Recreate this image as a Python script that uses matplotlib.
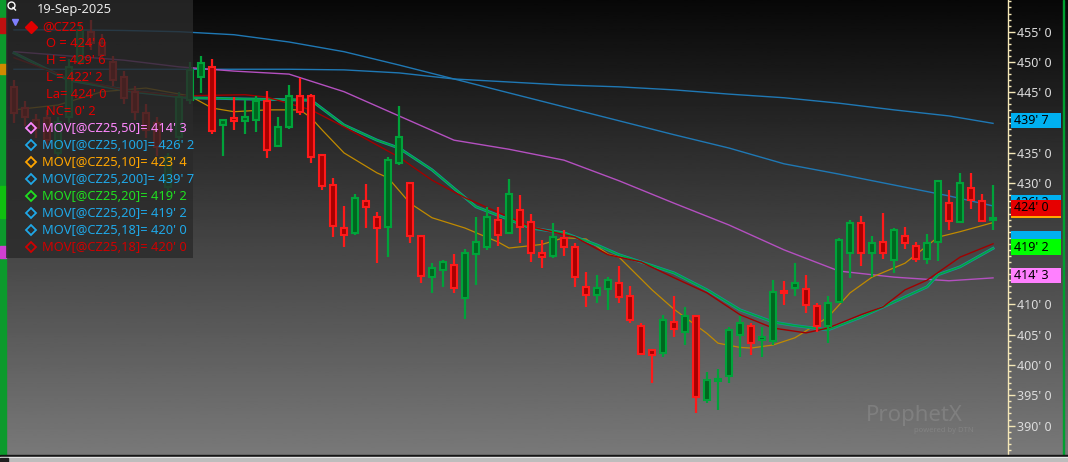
import numpy as np
import matplotlib.pyplot as plt
import matplotlib.transforms as mtransforms
from matplotlib.patches import Rectangle
from matplotlib.ticker import MultipleLocator, FixedLocator, FuncFormatter

plt.rcParams['font.family'] = ['Noto Sans', 'DejaVu Sans']

# ---- daily OHLC for @CZ25 ----
opens = [445.9, 442.4, 440.4, 440.8, 435.0, 440.9, 450.0, 455.0, 453.1, 450.0,
         447.5, 445.0, 441.6, 439.9, 429.4, 437.6, 443.7, 447.5, 449.2, 439.6,
         440.7, 440.3, 440.5, 443.5, 436.2, 439.2, 444.4, 444.4, 434.7, 429.7,
         422.6, 421.7, 427.0, 424.5, 422.7, 433.4, 430.0, 421.3, 414.6, 415.6,
         416.5, 411.0, 418.3, 419.5, 424.0, 421.8, 425.6, 423.6, 418.4, 418.0,
         420.9, 419.4, 412.9, 411.6, 412.5, 413.6, 411.4, 406.4, 402.5, 401.9,
         407.1, 405.4, 408.1, 394.3, 397.4, 398.2, 405.0, 406.4, 404.2, 404.0,
         412.2, 412.7, 412.5, 409.7, 406.4, 410.4, 418.4, 423.5, 418.4, 420.3,
         417.4, 421.3, 419.7, 417.5, 420.3, 426.7, 423.6, 429.2, 427.0, 424.0]
highs = [447.0, 443.5, 441.5, 442.0, 441.0, 450.5, 456.5, 457.0, 454.6, 451.0,
         448.5, 446.0, 443.0, 441.0, 435.0, 445.0, 450.0, 451.0, 450.5, 440.6,
         444.2, 443.7, 444.4, 445.2, 440.9, 446.2, 447.4, 444.7, 434.7, 430.8,
         426.3, 428.3, 429.9, 425.3, 434.4, 442.7, 430.2, 421.3, 416.8, 417.3,
         418.3, 419.1, 424.5, 426.1, 426.0, 430.7, 428.1, 425.0, 420.6, 423.4,
         422.3, 420.1, 415.4, 414.9, 414.6, 416.3, 413.0, 407.0, 402.5, 408.2,
         411.4, 409.6, 408.2, 398.9, 399.3, 406.2, 408.1, 406.9, 406.2, 414.0,
         413.9, 416.9, 414.9, 410.2, 411.4, 420.9, 423.9, 424.6, 421.3, 425.1,
         422.6, 422.7, 420.3, 421.6, 430.6, 428.9, 431.7, 431.7, 428.3, 429.75]
lows = [440.0, 439.5, 437.5, 436.0, 434.0, 440.0, 449.5, 452.0, 450.5, 446.0,
        443.0, 440.5, 437.5, 434.5, 428.0, 436.0, 443.0, 444.9, 438.1, 434.5,
        438.8, 438.1, 438.5, 434.1, 436.0, 438.9, 441.3, 433.3, 428.9, 421.2,
        419.5, 421.5, 422.6, 416.8, 417.8, 433.0, 420.1, 413.5, 411.9, 412.8,
        411.8, 407.6, 413.2, 419.0, 419.7, 421.7, 420.1, 417.0, 416.0, 417.6,
        418.0, 412.9, 409.5, 410.2, 409.1, 410.2, 407.0, 401.6, 397.0, 401.4,
        404.6, 403.3, 392.1, 393.7, 392.6, 397.1, 401.4, 401.6, 401.4, 403.3,
        409.9, 411.4, 408.6, 405.5, 403.7, 410.2, 414.3, 416.4, 414.5, 417.5,
        415.2, 419.1, 417.0, 416.7, 417.2, 422.2, 423.4, 425.7, 423.8, 422.25]
closes = [441.6, 440.9, 439.1, 437.1, 440.1, 449.2, 455.3, 453.1, 451.2, 447.0,
          444.1, 441.7, 438.8, 436.0, 434.3, 444.2, 448.7, 449.8, 438.6, 440.5,
          440.2, 441.0, 443.5, 435.5, 439.2, 444.4, 441.7, 434.4, 429.5, 422.9,
          421.5, 427.5, 426.1, 422.6, 433.9, 437.6, 421.3, 414.7, 416.0, 417.0,
          412.7, 418.4, 420.3, 424.5, 421.4, 428.2, 422.8, 418.4, 417.9, 421.2,
          419.5, 414.6, 411.6, 412.7, 414.1, 411.2, 407.4, 401.8, 401.6, 407.4,
          405.9, 408.1, 394.8, 397.6, 397.6, 405.8, 406.9, 403.6, 404.6, 412.1,
          411.9, 413.5, 409.9, 406.4, 410.3, 420.7, 423.5, 418.4, 420.2, 418.4,
          422.3, 420.2, 417.5, 420.2, 430.4, 423.8, 430.0, 427.2, 423.75, 424.0]

# ---- moving averages (bar index, value) ----
ma_idx = [0, 5, 10, 15, 20, 25, 30, 35, 40, 45, 50, 55, 60, 65, 70, 75, 80, 85, 89]
ma200 = [448.8, 448.8, 448.8, 448.8, 448.8, 448.8, 448.7, 448.2, 447.2, 446.7,
         446.2, 445.9, 445.4, 444.7, 444.1, 443.2, 442.1, 441.1, 439.875]
ma100 = [455.3, 455.3, 455.2, 455.0, 454.5, 453.3, 451.7, 449.5, 447.2, 444.9,
         442.6, 440.3, 438.0, 435.8, 433.2, 431.5, 429.7, 427.9, 426.25]
ma50 = [451.7, 451.0, 450.3, 449.2, 448.5, 448.0, 445.1, 441.1, 437.1, 435.6,
        433.8, 430.4, 426.7, 423.1, 419.0, 415.5, 414.5, 413.9, 414.375]

ma20_idx = [0, 5, 11, 16, 21, 27, 30, 33, 35, 38, 42, 47, 50, 53, 55, 60, 63,
            66, 69, 71, 74, 77, 80, 83, 84, 86, 89]
ma20 = [451.5, 447.0, 445.1, 444.1, 443.9, 443.7, 439.6, 437.1, 435.8, 432.2,
        426.1, 422.6, 421.8, 419.8, 418.2, 415.2, 412.4, 409.1, 407.1, 406.5,
        405.8, 407.9, 410.4, 412.9, 414.9, 416.2, 419.25]

ma18_idx = [0, 5, 10, 15, 21, 23, 27, 30, 33, 35, 38, 41, 47, 51, 54, 57, 60,
            63, 66, 69, 72, 74, 77, 79, 81, 83, 86, 89]
ma18 = [450.7, 447.4, 445.4, 444.4, 444.6, 444.2, 442.1, 439.3, 436.3, 434.3,
        430.5, 427.6, 422.8, 421.1, 418.2, 417.0, 414.4, 411.9, 408.3, 406.1,
        405.3, 406.1, 408.3, 409.6, 412.4, 414.0, 417.8, 420.0]

ma10_idx = [0, 4, 8, 12, 16, 18, 20, 23, 26, 27, 28, 30, 33, 34, 36, 38, 41, 44,
            45, 48, 50, 52, 54, 55, 58, 60, 63, 64, 66, 67, 69, 71, 74, 76, 78,
            81, 84, 86, 89]
ma10 = [442.1, 442.9, 445.1, 445.7, 444.4, 442.4, 441.8, 442.1, 442.1, 440.8,
        438.8, 435.0, 431.7, 430.9, 426.7, 424.3, 422.6, 420.3, 419.3, 419.9,
        421.0, 420.8, 418.3, 417.8, 412.4, 409.2, 405.2, 403.6, 402.9, 402.8,
        403.3, 404.5, 407.9, 411.9, 414.5, 416.8, 421.1, 422.0, 423.5]


def fmt_price(v):
    whole = int(np.floor(v + 1e-9))
    eighth = int(round((v - whole) * 8))
    return f"{whole}' {eighth}"


W, H = 1068, 462
fig = plt.figure(figsize=(W / 100, H / 100), dpi=100)

# gradient background, dark at the top
bg = fig.add_axes([0, 0, 1, 1], zorder=0)
grad = np.linspace(0.03, 0.48, 256).reshape(-1, 1)
bg.imshow(grad, cmap='gray', vmin=0, vmax=1, aspect='auto',
          extent=[0, 1, 0, 1], origin='upper')
bg.set_xlim(0, 1)
bg.set_ylim(0, 1)
bg.axis('off')

# price axes
ax = fig.add_axes([6 / W, 7 / H, 1002 / W, 455 / H], zorder=2)
ax.patch.set_alpha(0)
ymin, ymax = 385.15, 460.23
ax.set_xlim(-0.727, 90.36)
ax.set_ylim(ymin, ymax)
ppu = 455 / (ymax - ymin)

x = np.arange(len(opens))
o = np.array(opens)
c = np.array(closes)
up = c >= o
body_lo = np.minimum(o, c)
body_h = np.maximum(np.abs(c - o), 0.3)

edge = np.where(up, '#00a33a', '#ff1a1a')
fill = np.where(up, '#00661f', '#a80000')
ax.vlines(x, lows, highs, colors=edge, lw=1.6, zorder=3)
ax.bar(x, body_h, bottom=body_lo, width=0.6, color=fill, edgecolor=edge,
       linewidth=1.5, zorder=4)

ax.plot(ma_idx, ma200, color='#1f78b4', lw=1.0, zorder=2)
ax.plot(ma_idx, ma100, color='#1f78b4', lw=1.0, zorder=2)
ax.plot(ma_idx, ma50, color='#b450c0', lw=1.0, zorder=2)
ax.plot(ma10_idx, ma10, color='#c08a00', lw=0.9, zorder=2)
ax.plot(ma20_idx, ma20, color='#1a8fa0', lw=2.1, zorder=2)
ax.plot(ma20_idx, ma20, color='#00a83a', lw=1.1, zorder=2)
ax.plot(ma18_idx, ma18, color='#a00000', lw=1.0, zorder=2)

# price tags on the scale: (value, colour, pixel shift up, show text)
last = closes[-1]
tags = [(ma200[-1], '#00b0f0', 2.7, True), (ma100[-1], '#00b0f0', 3.0, True),
        (ma10[-1], '#ffa500', 12.6, False), (last, '#e60000', 11.6, True),
        (ma18[-1], '#00b0f0', 5.5, False), (ma20[-1], '#00ff00', 1.3, True),
        (ma50[-1], '#ff80ff', 2.4, True)]
tag_centres = [v + s / ppu for v, _, s, _ in tags]


def tick_label(v, pos):
    # labels hidden where a tag sits on the scale
    if any(abs(v - t) * ppu < 11 for t in tag_centres):
        return ''
    return fmt_price(v)


# right price scale
for s in ['left', 'top', 'bottom']:
    ax.spines[s].set_visible(False)
ax.spines['right'].set_color('#f5e8b8')
ax.spines['right'].set_linewidth(1.0)
ax.set_xticks([])
ax.yaxis.tick_right()
ax.yaxis.set_major_locator(FixedLocator(np.arange(390, 456, 5)))
ax.yaxis.set_minor_locator(MultipleLocator(1))
ax.yaxis.set_major_formatter(FuncFormatter(tick_label))
ax.tick_params(axis='y', which='major', length=5, width=1, color='#f5e8b8',
               labelcolor='#dcdcdc', labelsize=9, pad=1.5)
ax.tick_params(axis='y', which='minor', length=2.5, width=1, color='#f5e8b8')

tag_h = 15.5 / ppu
trans = mtransforms.blended_transform_factory(ax.transAxes, ax.transData)
for k, (v, col, shift, show) in enumerate(tags):
    yc = v + shift / ppu
    ax.add_patch(Rectangle((1.003, yc - tag_h / 2), 0.05, tag_h, transform=trans,
                           facecolor=col, edgecolor='none', clip_on=False,
                           zorder=10 + 2 * k))
    if show:
        ax.text(1.006, yc, fmt_price(v), transform=trans, va='center', ha='left',
                fontsize=9, color='black', clip_on=False, zorder=11 + 2 * k)

# overlay in pixel units: frame, legend, watermark
ov = fig.add_axes([0, 0, 1, 1], zorder=5)
ov.patch.set_alpha(0)
ov.set_xlim(0, W)
ov.set_ylim(H, 0)
ov.axis('off')

ov.add_patch(Rectangle((0, 0), 6, 455, color='#0c9a2c'))
for y0, y1, col in [(18, 33, '#c01010'), (64, 74, '#d08a00'), (186, 218, '#10c010'),
                    (246, 258, '#d040d0')]:
    ov.add_patch(Rectangle((0, y0), 6, y1 - y0, color=col))
ov.add_patch(Rectangle((1062.5, 0), 1.5, 455, color='#00a030'))
ov.add_patch(Rectangle((0, 455), W, 2, color='#151515'))
ov.add_patch(Rectangle((0, 457), W, 1, color='#f0f0f0'))
ov.add_patch(Rectangle((0, 458), W, 4, color='#bdbdbd'))
ov.add_patch(Rectangle((0, 458), 8, 4, color='#202020'))

# legend panel
ov.add_patch(Rectangle((6, 0), 187, 258, facecolor='#2a2a2a', alpha=0.8,
                       edgecolor='none'))
ov.plot(11, 5, marker='o', ms=5, mfc='none', mec='white', mew=1)
ov.plot([13, 15.5], [7.5, 10], color='white', lw=1)
ov.text(37, 9, '19-Sep-2025', color='#e8e8e8', fontsize=9.3, va='center')
ov.plot(15, 22, marker='v', ms=4, color='#8080ff')
ov.plot(30.5, 26.5, marker='D', ms=6, color='#e00000')
ov.text(42.5, 26.5, '@CZ25', color='#e00000', fontsize=9.3, va='center')

red = '#e00000'
ohlc_lines = [f"O = {fmt_price(opens[-1])}", f"H = {fmt_price(highs[-1])}",
              f"L = {fmt_price(lows[-1])}", f"La= {fmt_price(closes[-1])}",
              f"NC= {fmt_price(closes[-1] - closes[-2])}"]
for k, s in enumerate(ohlc_lines):
    ov.text(45.5, 43.5 + 16.9 * k, s, color=red, fontsize=9.3, va='center')

legend_rows = [(50, ma50[-1], '#ff88ff'), (100, ma100[-1], '#1fa8e8'),
               (10, ma10[-1], '#ffa500'), (200, ma200[-1], '#1fa8e8'),
               (20, ma20[-1], '#20e020'), (20, ma20[-1], '#1fa8e8'),
               (18, ma18[-1], '#1fa8e8'), (18, ma18[-1], '#d00000')]
for k, (n, v, col) in enumerate(legend_rows):
    yy = 128.3 + 17.0 * k
    ov.plot(30.5, yy, marker='D', ms=5.5, mfc='none', mec=col, mew=1.3)
    ov.text(42.5, yy, f"MOV[@CZ25,{n}]= {fmt_price(v)}", color=col,
            fontsize=9.3, va='center')

# watermark
ov.text(914, 416, 'ProphetX', color='#a8a8a8', alpha=0.3, fontsize=16,
        fontweight='bold', ha='center', va='center')
ov.text(944, 431, 'powered by DTN', color='#a8a8a8', alpha=0.3, fontsize=5.5,
        ha='center', va='center')

fig.savefig('out.png', dpi=100)
